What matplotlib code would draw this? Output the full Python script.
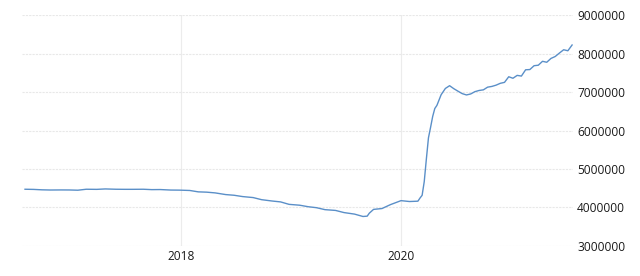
import matplotlib
matplotlib.use("Agg")
import matplotlib.pyplot as plt
import matplotlib.dates as mdates
import pandas as pd

# Fed balance sheet, total assets (USD million)
dates = [
    "2016-08-03", "2016-08-31", "2016-09-28", "2016-10-26", "2016-11-30", "2016-12-28",
    "2017-01-25", "2017-02-22", "2017-03-29", "2017-04-26", "2017-05-31", "2017-06-28",
    "2017-07-26", "2017-08-30", "2017-09-27", "2017-10-25", "2017-11-29", "2017-12-27",
    "2018-01-31", "2018-02-28", "2018-03-28", "2018-04-25", "2018-05-30", "2018-06-27",
    "2018-07-25", "2018-08-29", "2018-09-26", "2018-10-31", "2018-11-28", "2018-12-26",
    "2019-01-30", "2019-02-27", "2019-03-27", "2019-04-24", "2019-05-29", "2019-06-26",
    "2019-07-31", "2019-08-28", "2019-09-11", "2019-09-18", "2019-10-02", "2019-10-30",
    "2019-11-27", "2019-12-18", "2020-01-01", "2020-01-29", "2020-02-26", "2020-03-04",
    "2020-03-11", "2020-03-18", "2020-03-25", "2020-04-01", "2020-04-08", "2020-04-15",
    "2020-04-22", "2020-04-29", "2020-05-13", "2020-05-27", "2020-06-10", "2020-06-24",
    "2020-07-08", "2020-07-22", "2020-08-05", "2020-08-19", "2020-09-02", "2020-09-16",
    "2020-09-30", "2020-10-14", "2020-10-28", "2020-11-11", "2020-11-25", "2020-12-09",
    "2020-12-23", "2021-01-06", "2021-01-20", "2021-02-03", "2021-02-17", "2021-03-03",
    "2021-03-17", "2021-03-31", "2021-04-14", "2021-04-28", "2021-05-12", "2021-05-26",
    "2021-06-09", "2021-06-23", "2021-07-07", "2021-07-21",
]
assets = [
    4470000, 4466000, 4455000, 4450000, 4452000, 4451000,
    4445000, 4470000, 4467000, 4478000, 4470000, 4468000,
    4468000, 4470000, 4460000, 4462000, 4449000, 4447000,
    4438000, 4402000, 4394000, 4375000, 4331000, 4313000,
    4279000, 4253000, 4198000, 4163000, 4140000, 4076000,
    4054000, 4015000, 3989000, 3938000, 3918000, 3862000,
    3822000, 3760000, 3769000, 3846000, 3945000, 3967000,
    4069000, 4131000, 4173000, 4150000, 4159000, 4241000,
    4312000, 4668000, 5254000, 5811000, 6083000, 6368000,
    6574000, 6656000, 6934000, 7097000, 7169000, 7091000,
    7025000, 6962000, 6928000, 6954000, 7014000, 7045000,
    7061000, 7131000, 7150000, 7183000, 7231000, 7256000,
    7402000, 7363000, 7438000, 7420000, 7584000, 7590000,
    7690000, 7703000, 7805000, 7780000, 7880000, 7930000,
    8020000, 8106000, 8080000, 8230000,
]
y_ticks = [3000000, 4000000, 5000000, 6000000, 7000000, 8000000, 9000000]
x_ticks = ["2018-01-01", "2020-01-01"]

plt.rcParams["font.family"] = ["Open Sans", "DejaVu Sans"]

df = pd.DataFrame({"date": pd.to_datetime(dates), "assets": assets})

fig = plt.figure(figsize=(6.4, 2.76), dpi=100)
ax = fig.add_axes([22 / 640, 0.110, 551 / 640, 0.834])

ax.plot(df["date"], df["assets"], color="#5a8fc8", linewidth=1.0)

ax.set_xlim(pd.Timestamp("2016-07-24"), pd.Timestamp("2021-07-24"))
ax.set_ylim(y_ticks[0], y_ticks[-1])
ax.set_yticks(y_ticks)
ax.set_yticklabels([str(v) for v in y_ticks])
ax.set_xticks(pd.to_datetime(x_ticks))
ax.xaxis.set_major_formatter(mdates.DateFormatter("%Y"))

ax.yaxis.tick_right()
ax.tick_params(axis="both", length=0, labelsize=8.6, labelcolor="#1a1a1a")
ax.tick_params(axis="y", pad=3)
ax.tick_params(axis="x", pad=3)

ax.grid(axis="y", color="#e8e8e8", linewidth=0.8, linestyle=(0, (2, 1)))
ax.grid(axis="x", color="#ececec", linewidth=0.8)
for spine in ax.spines.values():
    spine.set_visible(False)

fig.savefig("out.png", dpi=100)
